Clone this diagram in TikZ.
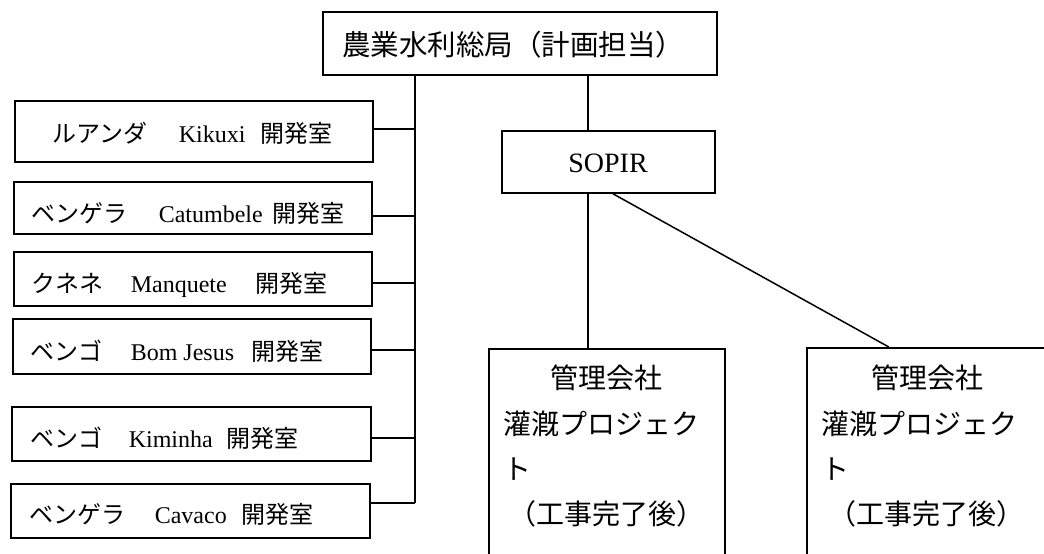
\documentclass[tikz,border=0pt]{standalone}
\usepackage{fontspec}
\setmainfont{Liberation Serif}
\newfontfamily\cjk{Noto Sans CJK JP}
\newcommand\jp[1]{{\cjk #1}}
\usetikzlibrary{calc}
\begin{document}
\begin{tikzpicture}[x=1pt,y=-1pt,line width=1.6pt,
  box/.style={draw,inner sep=0pt,line width=1.6pt},
  conn/.style={draw,line width=1.5pt},
  lbl/.style={inner sep=0pt,anchor=base west,font=\fontsize{24}{28}\selectfont},
  toplbl/.style={inner sep=0pt,font=\fontsize{28.5}{34}\selectfont\cjk},
  soplbl/.style={inner sep=0pt,anchor=base,font=\fontsize{28}{32}\selectfont},
  mlbl/.style={inner sep=0pt,font=\fontsize{28}{32}\selectfont\cjk},
  mlblw/.style={inner sep=0pt,anchor=west,font=\fontsize{28}{32}\selectfont\cjk}]
\useasboundingbox (0,0) rectangle (1044,554);
\clip (0,0) rectangle (1044,554);
% top box
\node[box,minimum width=394pt,minimum height=63pt] (top) at (520,43.5) {};
\node[toplbl] (toptxt) at (513,45) {農業水利総局（計画担当）};
% left boxes
\node[box,minimum width=358pt,minimum height=61pt] (b1) at (194,131.5) {};
\node[box,minimum width=358pt,minimum height=52pt] (b2) at (193,208) {};
\node[box,minimum width=358pt,minimum height=54pt] (b3) at (193,279) {};
\node[box,minimum width=358pt,minimum height=55pt] (b4) at (192,346.5) {};
\node[box,minimum width=359pt,minimum height=54pt] (b5) at (191.5,434) {};
\node[box,minimum width=359pt,minimum height=54pt] (b6) at (190.5,511) {};
\node[lbl] (t1) at (52,142) {\jp{ルアンダ}\hspace{31pt}Kikuxi\hspace{15pt}\jp{開発室}};
\node[lbl] (t2) at (31,222) {\jp{ベンゲラ}\hspace{31pt}Catumbele\hspace{10pt}\jp{開発室}};
\node[lbl] (t3) at (31,292) {\jp{クネネ}\hspace{27pt}Manquete\hspace{29pt}\jp{開発室}};
\node[lbl] (t4) at (30,360) {\jp{ベンゴ}\hspace{28pt}Bom Jesus\hspace{17pt}\jp{開発室}};
\node[lbl] (t5) at (30,447) {\jp{ベンゴ}\hspace{26pt}Kiminha\hspace{14pt}\jp{開発室}};
\node[lbl] (t6) at (29,523) {\jp{ベンゲラ}\hspace{29pt}Cavaco\hspace{15pt}\jp{開発室}};
% bus coordinates
\coordinate (c1) at (415,129);
\coordinate (c2) at (415,216);
\coordinate (c3) at (415,283);
\coordinate (c4) at (415,350);
\coordinate (c5) at (415,438);
\coordinate (c6) at (415,503);
\draw[conn] (top.south -| c1) -- (c6);
\foreach \i in {1,...,6}{\draw[conn] (c\i -| b\i.east) -- (c\i);}
% SOPIR
\node[box,minimum width=213pt,minimum height=62pt] (sop) at (608.5,162) {};
\node[soplbl] (soptxt) at (608,172) {SOPIR};
\draw[conn] ([xshift=-20.5pt]sop.north) -- ([xshift=-20.5pt]sop.north |- top.south);
% management boxes
\node[box,anchor=north west,minimum width=236pt,minimum height=300pt] (m1) at (488,348) {};
\node[box,anchor=north west,minimum width=244pt,minimum height=300pt] (m2) at (806,347) {};
\node[mlbl] (m1a) at (606,378) {管理会社};
\node[mlblw] (m1b) at (503,424) {灌漑プロジェク};
\node[mlblw] (m1c) at (503,469) {ト};
\node[mlbl] (m1d) at (606,514) {（工事完了後）};
\node[mlbl] (m2a) at (927,378) {管理会社};
\node[mlblw] (m2b) at (821,424) {灌漑プロジェク};
\node[mlblw] (m2c) at (821,469) {ト};
\node[mlbl] (m2d) at (926,514) {（工事完了後）};
\draw[conn] ([xshift=-19pt]m1.north |- sop.south) -- ([xshift=-19pt]m1.north);
\draw[conn] ([xshift=4.5pt]sop.south) -- ([xshift=-40pt]m2.north);
\end{tikzpicture}
\end{document}
